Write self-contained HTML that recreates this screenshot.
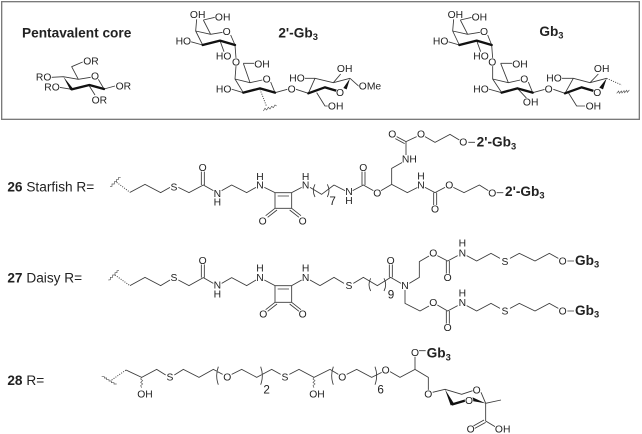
<!DOCTYPE html>
<html><head><meta charset="utf-8">
<style>
html,body{margin:0;padding:0;background:#fff;width:642px;height:434px;overflow:hidden}
svg{display:block}
text{font-family:"Liberation Sans",sans-serif;fill:#222;stroke:none}
.a{font-size:31px;text-anchor:middle;stroke:#fff;stroke-width:4px;paint-order:stroke}
.s{font-size:41px}
.b{font-size:41px;font-weight:bold}
.n{font-size:35px;text-anchor:middle}
.l{fill:none;stroke:#3a3a3a;stroke-width:2.6;stroke-linejoin:round}
.k{fill:none;stroke:#111;stroke-width:7;stroke-linecap:round;stroke-linejoin:round}
.d{fill:none;stroke:#444;stroke-width:3;stroke-dasharray:3 4}
.w{fill:none;stroke:#555;stroke-width:2}
.f{fill:#111;stroke:none}
tspan.u{font-size:28px}
</style></head><body>
<svg width="642" height="434" viewBox="0 0 1926 1302" xmlns="http://www.w3.org/2000/svg">
<rect x="5" y="5" width="1913" height="353" fill="none" stroke="#7a7a7a" stroke-width="4"/>

<!-- Top left: core -->
<text class="b" x="66" y="112">Pentavalent core</text>
<path class="l" d="M248 186L215 200L235 238M190 230L235 238L272 232M295 238L312 267M155 232L190 230M178 262L215 268M268 258L285 285M312 267L345 258"/>
<path class="k" d="M312 267L268 255L215 268"/>
<polygon class="f" points="190,230 219,266 211,270"/>
<text class="a" x="273" y="194">OR</text><text class="a" x="285" y="239">O</text>
<text class="a" x="131" y="242">RO</text><text class="a" x="156" y="272">RO</text>
<text class="a" x="298" y="310">OR</text><text class="a" x="370" y="268">OR</text>

<!-- 2'-Gb3 -->
<text class="b" x="835" y="112">2'-Gb<tspan class="u" dy="8">3</tspan></text>
<path class="l" d="M590 58L587 93L632 103L668 97M692 105L705 135M610 60L632 103M610 60L645 52M572 125L608 135M587 93L608 135M660 122L672 155M705 135L708 175M708 198L705 237L750 248L787 240M812 246L825 278M730 190L750 248M730 190L765 190M693 267L730 278M705 237L730 278M825 278L862 268M888 268L925 280L945 235L1000 248L1050 235M912 235L945 235M1022 222L1000 248M950 278L975 318L985 318M1050 235L1078 260"/>
<path class="k" d="M705 135L660 122L608 135M825 278L780 265L730 278M925 280L975 262L1008 272"/>
<polygon class="f" points="1050,235 1040,268 1030,264"/>
<path class="d" d="M780 268L800 320"/>
<path class="w" d="M790 333l5-8 5 5 5-8 5 5 5-8 5 4 5-8 5 3"/>
<text class="a" x="593" y="54">OH</text><text class="a" x="668" y="61">OH</text><text class="a" x="680" y="105">O</text>
<text class="a" x="550" y="134">HO</text><text class="a" x="671" y="179">HO</text><text class="a" x="708" y="197">O</text>
<text class="a" x="786" y="203">OH</text><text class="a" x="800" y="248">O</text><text class="a" x="671" y="278">HO</text>
<text class="a" x="875" y="278">O</text><text class="a" x="891" y="244">HO</text>
<text class="a" x="1034" y="216">OH</text><text class="a" x="1020" y="288">O</text>
<text class="a" x="1110" y="269">OMe</text><text class="a" x="1007" y="328">OH</text>

<!-- Gb3 -->
<g transform="translate(960,0)">
<text class="b" x="658" y="108">Gb<tspan class="u" dy="8">3</tspan></text>
<path class="l" d="M401 58L398 93L443 103L480 97M503 105L515 135M421 60L443 103M421 60L456 52M384 125L418 135M398 93L418 135M470 122L482 155M515 135L518 175M518 198L518 237L565 248L601 240M625 246L638 278M542 190L565 248M542 190L578 190M505 267L545 278M518 237L545 278M592 265L620 295M638 278L675 268M700 268L735 280L760 235L810 248L860 235M725 235L760 235M835 222L810 248M745 278L770 318L795 318"/>
<path class="k" d="M515 135L470 122L418 135M638 278L592 265L545 278M735 280L785 262L818 272"/>
<polygon class="f" points="860,235 849,268 838,263"/>
<path class="d" d="M860 235L905 255"/>
<path class="w" d="M890 280l6-7 2 7 6-7 2 6 6-7 2 6 6-7 2 6 6-7"/>
<text class="a" x="406" y="54">OH</text><text class="a" x="478" y="61">OH</text><text class="a" x="492" y="105">O</text>
<text class="a" x="362" y="134">HO</text><text class="a" x="483" y="179">HO</text><text class="a" x="517" y="197">O</text>
<text class="a" x="600" y="203">OH</text><text class="a" x="613" y="248">O</text><text class="a" x="483" y="278">HO</text>
<text class="a" x="632" y="316">OH</text><text class="a" x="686" y="278">O</text><text class="a" x="702" y="244">HO</text>
<text class="a" x="845" y="216">OH</text><text class="a" x="832" y="288">O</text><text class="a" x="820" y="328">OH</text>
</g>

<!-- Row 26 -->
<g transform="translate(0,375)">
<text class="s" x="22" y="200"><tspan font-weight="bold">26</tspan> Starfish R=</text>
<path class="w" d="M330 185l6-1 0-7 7 0 0-7 7 0 0-7 6 0 0-6 6 0"/>
<path class="d" d="M350 172L390 202"/>
<path class="l" d="M390 202L435 178L482 203L510 187M535 187L567 203L610 180L640 197M604 180L604 140M613 180L613 140M665 197L695 180L740 203L768 187M793 187L825 203M825 203H875V250H825ZM833 213H867M825 250L797 272M831 255L803 277M875 250L903 272M869 255L897 277M875 203L905 187M930 187L965 208L1002 180"/>
<path class="l" d="M945 178Q935 197 945 216"/>
<text class="a" x="608" y="138">O</text><text class="a" x="652" y="216">N</text><text class="a" x="652" y="242">H</text>
<text class="a" x="780" y="190">N</text><text class="a" x="780" y="165">H</text>
<text class="a" x="788" y="298">O</text><text class="a" x="908" y="298">O</text>
<text class="a" x="522" y="197">S</text>
<text class="a" x="917" y="190">N</text><text class="a" x="917" y="165">H</text>
</g>
<g transform="translate(960,375)">
<path class="l" d="M22 178Q32 197 22 216M42 180L75 197M98 197L130 180L160 197M126 180V140M135 180V140M183 197L215 178V130L247 112M258 90V50L290 35M315 35L345 52L390 28L418 45M445 52H465M258 50L230 35M254 56L226 41M215 178L262 203L293 187M315 187L345 203L375 187M341 203V240M350 203V240M400 187L432 203L478 180L505 197M530 203H550"/>
<text class="n" x="38" y="240">7</text>
<text class="a" x="87" y="210">N</text><text class="a" x="87" y="237">H</text>
<text class="a" x="130" y="138">O</text><text class="a" x="172" y="215">O</text>
<text class="a" x="268" y="112">NH</text>
<text class="a" x="217" y="38">O</text><text class="a" x="303" y="38">O</text><text class="a" x="430" y="62">O</text>
<text class="b" x="470" y="65">2'-Gb<tspan class="u" dy="8">3</tspan></text>
<text class="a" x="303" y="190">N</text><text class="a" x="303" y="164">H</text>
<text class="a" x="345" y="263">O</text><text class="a" x="388" y="190">O</text><text class="a" x="517" y="215">O</text>
<text class="b" x="555" y="213">2'-Gb<tspan class="u" dy="8">3</tspan></text>
</g>

<!-- Row 27 -->
<g transform="translate(0,675)">
<text class="s" x="22" y="172"><tspan font-weight="bold">27</tspan> Daisy R=</text>
<path class="w" d="M325 165l6-1 0-7 7 0 0-7 7 0 0-7 6 0 0-6 6 0"/>
<path class="d" d="M345 150L390 182"/>
<path class="l" d="M390 182L435 157L482 182L510 165M535 165L567 182L610 158L640 175M604 158V118M613 158V118M665 175L695 158L740 182L768 165M793 165L825 182M825 182H875V232H825ZM833 192H867M825 232L797 254M831 237L803 259M875 232L903 254M869 237L897 259M875 182L905 165M930 165L960 182"/>
<text class="a" x="522" y="168">S</text><text class="a" x="608" y="117">O</text>
<text class="a" x="652" y="190">N</text><text class="a" x="652" y="218">H</text>
<text class="a" x="780" y="168">N</text><text class="a" x="780" y="140">H</text>
<text class="a" x="790" y="277">O</text><text class="a" x="908" y="277">O</text>
<text class="a" x="917" y="168">N</text><text class="a" x="917" y="140">H</text>
</g>
<g transform="translate(960,675)">
<path class="l" d="M0 182L42 157L72 175M100 175L130 157L172 182L212 157L243 175M208 157V118M217 157V118M268 175L298 157V110L327 93M352 92L383 108L413 92M379 108V148M388 108V148M440 92L470 108L513 85L540 100M570 100L598 85L645 108L688 85L715 100M742 108H762M255 195V235L300 258L327 243M352 240L383 258L413 242M379 258V297M388 258V297M440 242L470 258L513 235L540 250M570 250L598 235L645 258L688 235L715 250M742 258H762M152 160Q142 179 152 198M192 160Q202 179 192 198"/>
<text class="a" x="87" y="192">S</text><text class="a" x="212" y="117">O</text><text class="n" x="213" y="221">9</text>
<text class="a" x="255" y="192">N</text><text class="a" x="340" y="95">O</text><text class="a" x="383" y="168">O</text>
<text class="a" x="427" y="95">N</text><text class="a" x="427" y="65">H</text><text class="a" x="555" y="120">S</text><text class="a" x="728" y="118">O</text>
<text class="b" x="765" y="120">Gb<tspan class="u" dy="8">3</tspan></text>
<text class="a" x="340" y="243">O</text><text class="a" x="383" y="318">O</text>
<text class="a" x="427" y="243">N</text><text class="a" x="427" y="215">H</text><text class="a" x="555" y="268">S</text><text class="a" x="728" y="268">O</text>
<text class="b" x="765" y="270">Gb<tspan class="u" dy="8">3</tspan></text>
</g>

<!-- Row 28 -->
<g transform="translate(0,1005)">
<text class="s" x="22" y="150"><tspan font-weight="bold">28</tspan> R=</text>
<path class="w" d="M305 125l8 0 0 4 7 0 0 5 7 0 0 4 7 0 0 5 8 0 0 4 8 0"/>
<path class="d" d="M335 135L378 105"/>
<path class="l" d="M378 105L425 127L470 103L497 120M523 120L550 103L597 127L640 103L668 118M695 118L725 103L770 127L815 103L842 118M868 118L897 103L942 127L990 103M655 95Q645 122 655 149M782 95Q792 122 782 149"/>
<path class="w" d="M425 127l-3 5 6 5-6 5 6 5-6 5 3 6M942 127l-3 5 6 5-6 5 6 5-6 5 3 6"/>
<text class="a" x="510" y="137">S</text><text class="a" x="682" y="137">O</text><text class="n" x="800" y="176">2</text>
<text class="a" x="855" y="137">S</text>
<text class="a" x="435" y="188">OH</text><text class="a" x="951" y="188">OH</text>
</g>
<g transform="translate(960,1005)">
<path class="l" d="M30 103L55 118M40 95Q30 122 40 149M80 118L110 103L155 127L185 112M165 95Q175 122 165 149M210 110L240 127L285 103L325 127V165M285 103V65M297 47H317M338 172L375 163L425 178L458 167M483 172L497 205L543 195M497 205V258L525 275M492 255L458 274M497 262L463 281"/>
<path class="k" d="M397 208L435 197"/>
<polygon class="f" points="375,163 402,206 392,211"/>
<polygon class="f" points="497,205 458,187 456,198"/>
<text class="a" x="67" y="137">O</text><text class="n" x="182" y="175">6</text><text class="a" x="197" y="115">O</text>
<text class="a" x="285" y="63">O</text>
<text class="b" x="320" y="68">Gb<tspan class="u" dy="8">3</tspan></text>
<text class="a" x="325" y="188">O</text><text class="a" x="470" y="175">O</text><text class="a" x="447" y="207">O</text>
<text class="a" x="452" y="293">O</text><text class="a" x="548" y="293">OH</text>
</g>
</svg>
</body></html>
